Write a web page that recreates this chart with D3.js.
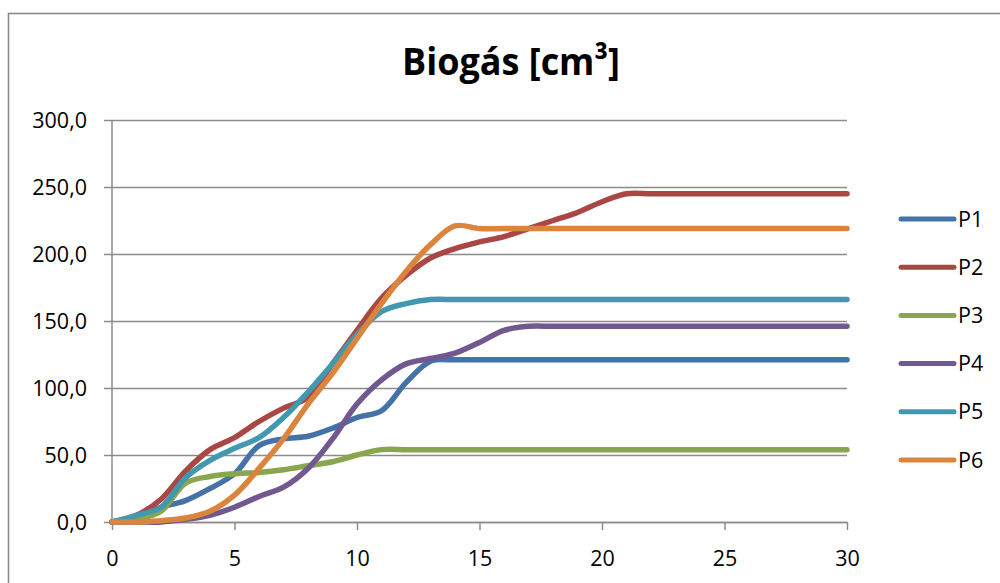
<!DOCTYPE html>
<html>
<head>
<meta charset="utf-8">
<script src="https://cdn.jsdelivr.net/npm/d3@7"></script>
<style>
  html, body { margin: 0; padding: 0; background: #fff; }
  svg { display: block; }
</style>
</head>
<body>
<svg id="chart" width="1000" height="583"></svg>
<script>
const title = "Biogás [cm³]";
const days = d3.range(0, 31);
const seriesNames = ["P1", "P2", "P3", "P4", "P5", "P6"];
const seriesColors = ["#4572A7", "#AA4643", "#89A54E", "#71588F", "#4198AF", "#DB843D"];
const P1 = [0,4,11,16,25,36,57,62,64,70,78,83,104,120,121,121,121,121,121,121,121,121,121,121,121,121,121,121,121,121,121];
const P2 = [0,5,17,38,54,63,75,85,93,118,143,167,184,197,204,209,213,219,225,231,239,245,245,245,245,245,245,245,245,245,245];
const P3 = [0,2,8,29,34,36,37,39,42,45,50,54,54,54,54,54,54,54,54,54,54,54,54,54,54,54,54,54,54,54,54];
const P4 = [0,0,0,2,5,11,19,26,40,62,88,106,118,122,126,134,143,146,146,146,146,146,146,146,146,146,146,146,146,146,146];
const P5 = [0,5,11,33,46,55,63,78,97,118,140,157,163,166,166,166,166,166,166,166,166,166,166,166,166,166,166,166,166,166,166];
const P6 = [0,0,1,3,8,20,40,62,88,111,137,163,187,207,221,219,219,219,219,219,219,219,219,219,219,219,219,219,219,219,219];
const seriesValues = [P1, P2, P3, P4, P5, P6];
const xTicks = [0, 5, 10, 15, 20, 25, 30];
const yTicks = [0, 50, 100, 150, 200, 250, 300];

const svg = d3.select("#chart");
const fontFamily = "'Open Sans', 'Noto Sans', sans-serif";
const gridColor = "#8c8c8c";

// chart border
svg.append("rect")
  .attr("x", 8.5).attr("y", 13.5)
  .attr("width", 1100).attr("height", 700)
  .attr("fill", "#fff")
  .attr("stroke", "#8a8a8a").attr("stroke-width", 1.6);

const x = d3.scaleLinear().domain([0, 30]).range([112, 847]);
const y = d3.scaleLinear().domain([0, 300]).range([522, 120]);

// title
svg.append("text")
  .attr("x", 511).attr("y", 75)
  .attr("text-anchor", "middle")
  .attr("font-family", fontFamily)
  .attr("font-weight", "bold")
  .attr("font-size", 38)
  .attr("textLength", 218)
  .attr("lengthAdjust", "spacingAndGlyphs")
  .attr("fill", "#000")
  .text(title);

const fmt = v => d3.format(".1f")(v).replace(".", ",");

// horizontal gridlines (with left tick)
const yAxis = d3.axisLeft(y).tickValues(yTicks).tickSize(-(847 - 104)).tickFormat(fmt).tickPadding(0);
const gy = svg.append("g").attr("transform", "translate(104,0)").call(yAxis);
gy.select(".domain").remove();
gy.selectAll(".tick line").attr("stroke", gridColor).attr("stroke-width", 1.5);
gy.selectAll(".tick text")
  .attr("x", 87 - 104)
  .attr("dy", "0.35em")
  .attr("font-family", fontFamily)
  .attr("font-size", 21.5)
  .attr("fill", "#000");

// vertical axis line
svg.append("line")
  .attr("x1", x(0)).attr("x2", x(0))
  .attr("y1", y(300)).attr("y2", y(0))
  .attr("stroke", gridColor).attr("stroke-width", 1.5);

// x axis
const xAxis = d3.axisBottom(x).tickValues(xTicks).tickSize(8).tickFormat(d => String(d)).tickSizeOuter(0);
const gx = svg.append("g").attr("transform", `translate(0,${y(0)})`).call(xAxis);
gx.select(".domain").attr("stroke", gridColor).attr("stroke-width", 1.5);
gx.selectAll(".tick line").attr("stroke", gridColor).attr("stroke-width", 1.5);
gx.selectAll(".tick text")
  .attr("y", 44).attr("dy", 0)
  .attr("font-family", fontFamily)
  .attr("font-size", 21.5)
  .attr("fill", "#000");

// series lines
const line = d3.line()
  .x((d, i) => x(days[i]))
  .y(d => y(d))
  .curve(d3.curveCatmullRom.alpha(0.5));

svg.append("g").selectAll("path")
  .data(seriesValues)
  .join("path")
  .attr("d", d => line(d))
  .attr("fill", "none")
  .attr("stroke", (d, i) => seriesColors[i])
  .attr("stroke-width", 5.5)
  .attr("stroke-linejoin", "round")
  .attr("stroke-linecap", "round");

// legend
const legend = svg.append("g");
seriesNames.forEach((name, i) => {
  const ly = 219 + i * 48.2;
  legend.append("line")
    .attr("x1", 901).attr("x2", 954)
    .attr("y1", ly).attr("y2", ly)
    .attr("stroke", seriesColors[i])
    .attr("stroke-width", 5)
    .attr("stroke-linecap", "round");
  legend.append("text")
    .attr("x", 958).attr("y", ly)
    .attr("dy", "0.35em")
    .attr("font-family", fontFamily)
    .attr("font-size", 21.5)
    .attr("fill", "#000")
    .text(name);
});
</script>
</body>
</html>
